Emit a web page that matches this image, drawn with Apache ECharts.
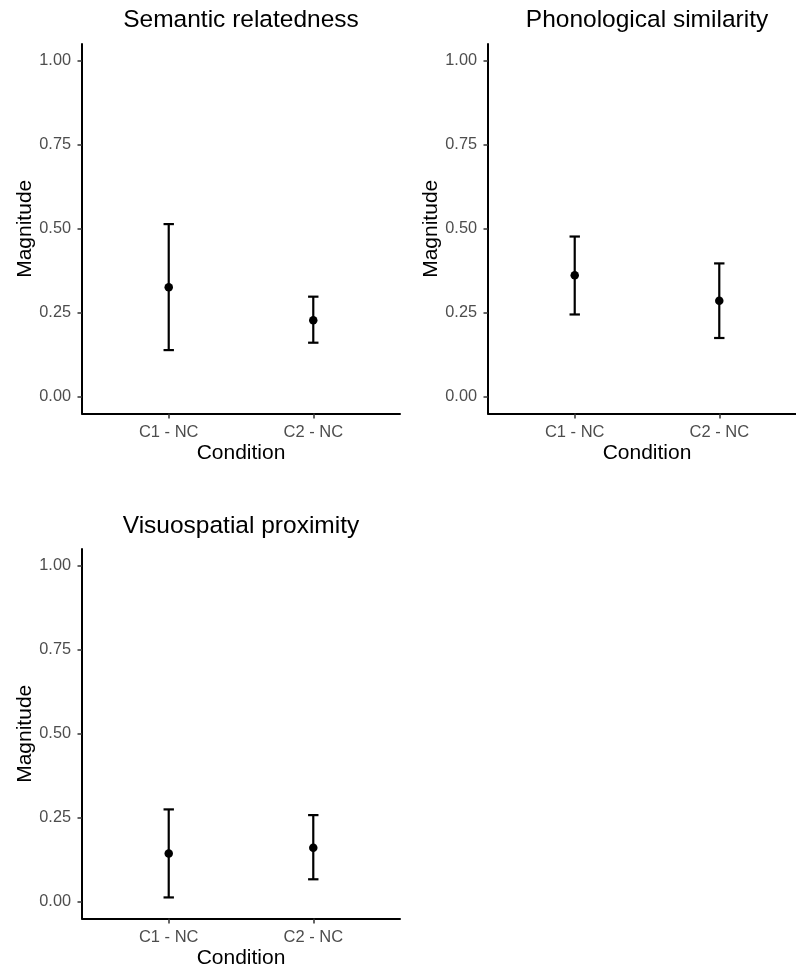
<!DOCTYPE html>
<html>
<head>
<meta charset="utf-8">
<script src="https://cdn.jsdelivr.net/npm/echarts@6/dist/echarts.min.js"></script>
<style>
html,body{margin:0;padding:0;background:#fff;}
#chart{width:796px;height:969px;}
</style>
</head>
<body>
<div id="chart"></div>
<script>
const categories = ['C1 - NC', 'C2 - NC'];
const panelTitles = ['Semantic relatedness', 'Phonological similarity', 'Visuospatial proximity'];
const yTicks = [0, 0.25, 0.5, 0.75, 1];

const semanticMean = [0.326, 0.228];
const semanticLower = [0.139, 0.161];
const semanticUpper = [0.514, 0.298];

const phonologicalMean = [0.362, 0.286];
const phonologicalLower = [0.245, 0.175];
const phonologicalUpper = [0.477, 0.397];

const visuospatialMean = [0.144, 0.161];
const visuospatialLower = [0.013, 0.067];
const visuospatialUpper = [0.275, 0.258];

const panels = [
  {title: panelTitles[0], mean: semanticMean, lower: semanticLower, upper: semanticUpper},
  {title: panelTitles[1], mean: phonologicalMean, lower: phonologicalLower, upper: phonologicalUpper},
  {title: panelTitles[2], mean: visuospatialMean, lower: visuospatialLower, upper: visuospatialUpper}
];

const FONT = '"Liberation Sans", Arial, sans-serif';
const grids = [
  {left: 82, top: 44, width: 318, height: 369.6},
  {left: 488, top: 44, width: 318, height: 369.6},
  {left: 82, top: 549, width: 318, height: 369.6}
];
const titleTops = [8, 8, 514];

const option = {
  backgroundColor: '#fff',
  animation: false,
  title: [],
  grid: [],
  xAxis: [],
  yAxis: [],
  series: []
};

function errRender(params, api) {
  const x = api.value(0);
  const lo = api.coord([x, api.value(1)]);
  const hi = api.coord([x, api.value(2)]);
  const hw = 5.2;
  const st = {stroke: '#000', lineWidth: 2.2};
  return {
    type: 'group',
    children: [
      {type: 'line', shape: {x1: lo[0], y1: lo[1], x2: hi[0], y2: hi[1]}, style: st},
      {type: 'line', shape: {x1: lo[0] - hw, y1: lo[1], x2: lo[0] + hw, y2: lo[1]}, style: st},
      {type: 'line', shape: {x1: hi[0] - hw, y1: hi[1], x2: hi[0] + hw, y2: hi[1]}, style: st}
    ]
  };
}

panels.forEach((p, i) => {
  const g = grids[i];
  option.grid.push(Object.assign({containLabel: false, outerBoundsMode: 'none'}, g));
  option.title.push({
    text: p.title,
    left: g.left + g.width / 2,
    top: titleTops[i],
    textAlign: 'center',
    padding: 0,
    textStyle: {fontFamily: FONT, fontSize: 24.5, fontWeight: 'normal', color: '#000'}
  });
  option.xAxis.push({
    gridIndex: i,
    type: 'value',
    min: 0.4,
    max: 2.6,
    name: 'Condition',
    nameLocation: 'middle',
    nameGap: 29,
    nameTextStyle: {fontFamily: FONT, fontSize: 21, color: '#000'},
    axisLine: {show: true, onZero: false, lineStyle: {color: '#000', width: 2}},
    axisTick: {show: true, length: 5, customValues: [1, 2], lineStyle: {color: '#333', width: 1.5}},
    axisLabel: {
      show: true, margin: 10.5, customValues: [1, 2],
      fontFamily: FONT, fontSize: 16.5, color: '#4d4d4d',
      formatter: v => categories[Math.round(v) - 1] || ''
    },
    splitLine: {show: false}
  });
  option.yAxis.push({
    gridIndex: i,
    type: 'value',
    min: -0.05,
    max: 1.05,
    name: 'Magnitude',
    nameLocation: 'middle',
    nameGap: 46,
    nameTextStyle: {fontFamily: FONT, fontSize: 21, color: '#000'},
    axisLine: {show: true, onZero: false, lineStyle: {color: '#000', width: 2}},
    axisTick: {show: true, length: 4.5, customValues: yTicks, lineStyle: {color: '#333', width: 1.5}},
    axisLabel: {
      show: true, margin: 11, customValues: yTicks,
      fontFamily: FONT, fontSize: 16.3, color: '#4d4d4d',
      formatter: v => v.toFixed(2)
    },
    splitLine: {show: false}
  });
  option.series.push({
    type: 'custom',
    xAxisIndex: i,
    yAxisIndex: i,
    renderItem: errRender,
    encode: {x: 0, y: [1, 2]},
    data: categories.map((c, k) => [k + 1, p.lower[k], p.upper[k]]),
    z: 2
  });
  option.series.push({
    type: 'scatter',
    xAxisIndex: i,
    yAxisIndex: i,
    symbol: 'circle',
    symbolSize: 8.5,
    itemStyle: {color: '#000', opacity: 1},
    data: categories.map((c, k) => [k + 1, p.mean[k]]),
    z: 3
  });
});

const chart = echarts.init(document.getElementById('chart'), null, {renderer: 'canvas'});
chart.setOption(option);
</script>
</body>
</html>
